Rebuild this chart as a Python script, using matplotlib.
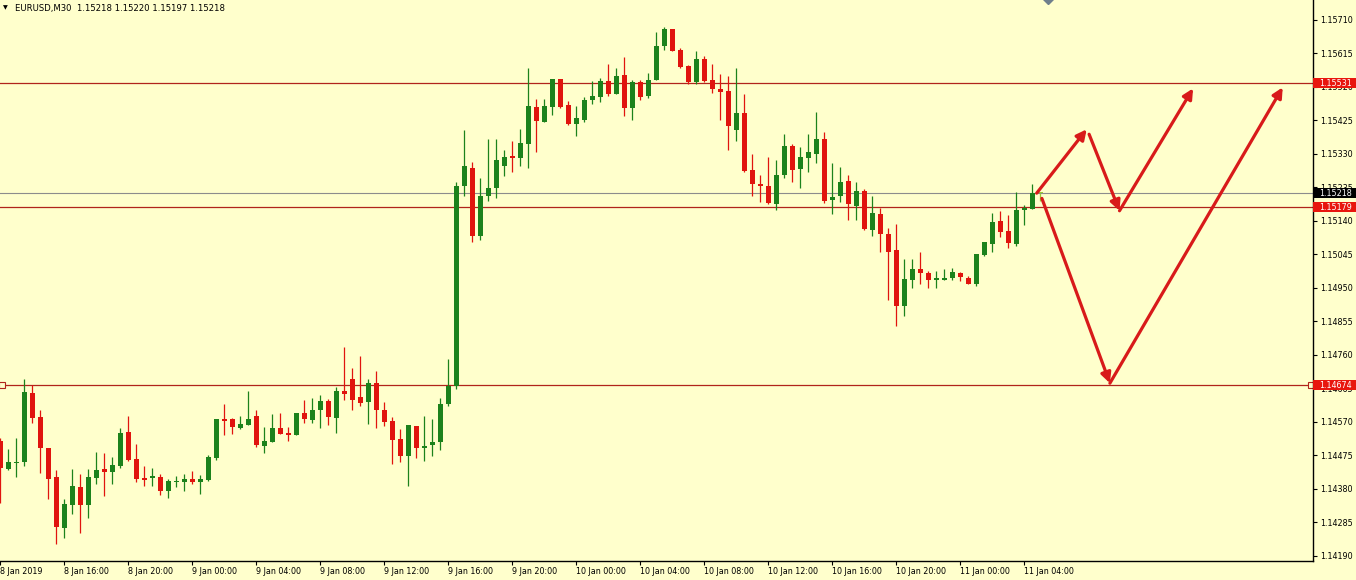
import matplotlib
matplotlib.use("Agg")
import matplotlib.pyplot as plt
import matplotlib.transforms as mtransforms
from matplotlib.patches import Rectangle
from matplotlib.ticker import FixedLocator, FormatStrFormatter
import numpy as np

# --- data (EURUSD M30) ---
symbol_title = "EURUSD,M30"
title_quote = [1.15218, 1.15220, 1.15197, 1.15218]

opens = [1.14516, 1.14438, 1.14454, 1.14456, 1.14652, 1.14583, 1.14496, 1.14414, 1.14270, 1.14335,
         1.14386, 1.14335, 1.14412, 1.14437, 1.14429, 1.14446, 1.14542, 1.14465, 1.14412, 1.14410,
         1.14414, 1.14374, 1.14401, 1.14400, 1.14408, 1.14400, 1.14405, 1.14467, 1.14579, 1.14579,
         1.14554, 1.14562, 1.14587, 1.14503, 1.14514, 1.14553, 1.14539, 1.14534, 1.14595, 1.14576,
         1.14604, 1.14630, 1.14582, 1.14657, 1.14692, 1.14641, 1.14626, 1.14681, 1.14603, 1.14573,
         1.14522, 1.14473, 1.14559, 1.14495, 1.14505, 1.14512, 1.14620, 1.14673, 1.15238, 1.15291,
         1.15098, 1.15212, 1.15233, 1.15297, 1.15323, 1.15319, 1.15359, 1.15463, 1.15422, 1.15463,
         1.15543, 1.15469, 1.15416, 1.15427, 1.15482, 1.15492, 1.15537, 1.15501, 1.15554, 1.15461,
         1.15535, 1.15495, 1.15539, 1.15636, 1.15685, 1.15626, 1.15580, 1.15535, 1.15599, 1.15539,
         1.15514, 1.15509, 1.15399, 1.15446, 1.15284, 1.15246, 1.15240, 1.15189, 1.15271, 1.15352,
         1.15287, 1.15319, 1.15330, 1.15373, 1.15199, 1.15210, 1.15254, 1.15182, 1.15225, 1.15115,
         1.15159, 1.15104, 1.15059, 1.14900, 1.14974, 1.15004, 1.14993, 1.14972, 1.14972, 1.14979,
         1.14993, 1.14979, 1.14962, 1.15044, 1.15076, 1.15139, 1.15112, 1.15076, 1.15170, 1.15173,
         1.15218]
highs = [1.14525, 1.14493, 1.14524, 1.14691, 1.14675, 1.14604, 1.14496, 1.14434, 1.14352, 1.14436,
         1.14422, 1.14436, 1.14485, 1.14481, 1.14471, 1.14553, 1.14586, 1.14508, 1.14445, 1.14439,
         1.14422, 1.14407, 1.14417, 1.14422, 1.14430, 1.14419, 1.14476, 1.14579, 1.14621, 1.14581,
         1.14586, 1.14658, 1.14604, 1.14555, 1.14593, 1.14596, 1.14555, 1.14595, 1.14632, 1.14638,
         1.14646, 1.14634, 1.14670, 1.14783, 1.14722, 1.14756, 1.14692, 1.14715, 1.14626, 1.14583,
         1.14550, 1.14561, 1.14559, 1.14586, 1.14579, 1.14639, 1.14749, 1.15250, 1.15399, 1.15307,
         1.15261, 1.15373, 1.15373, 1.15340, 1.15367, 1.15401, 1.15573, 1.15486, 1.15486, 1.15543,
         1.15543, 1.15480, 1.15465, 1.15492, 1.15537, 1.15545, 1.15586, 1.15573, 1.15605, 1.15539,
         1.15539, 1.15560, 1.15675, 1.15690, 1.15685, 1.15630, 1.15582, 1.15622, 1.15607, 1.15586,
         1.15556, 1.15550, 1.15573, 1.15499, 1.15329, 1.15271, 1.15321, 1.15312, 1.15386, 1.15358,
         1.15350, 1.15386, 1.15448, 1.15392, 1.15305, 1.15293, 1.15271, 1.15250, 1.15231, 1.15210,
         1.15178, 1.15120, 1.15131, 1.15032, 1.15032, 1.15053, 1.14998, 1.14998, 1.15004, 1.15007,
         1.14996, 1.14985, 1.15046, 1.15080, 1.15163, 1.15169, 1.15157, 1.15221, 1.15186, 1.15244,
         1.15220]
lows = [1.14339, 1.14433, 1.14415, 1.14446, 1.14568, 1.14426, 1.14351, 1.14223, 1.14242, 1.14308,
        1.14254, 1.14299, 1.14395, 1.14361, 1.14393, 1.14439, 1.14460, 1.14400, 1.14389, 1.14389,
        1.14362, 1.14355, 1.14386, 1.14375, 1.14393, 1.14367, 1.14403, 1.14463, 1.14534, 1.14537,
        1.14550, 1.14562, 1.14500, 1.14483, 1.14514, 1.14537, 1.14517, 1.14534, 1.14568, 1.14568,
        1.14554, 1.14561, 1.14540, 1.14632, 1.14605, 1.14616, 1.14563, 1.14554, 1.14558, 1.14450,
        1.14457, 1.14389, 1.14467, 1.14459, 1.14474, 1.14490, 1.14615, 1.14664, 1.15210, 1.15081,
        1.15087, 1.15197, 1.15206, 1.15268, 1.15280, 1.15296, 1.15290, 1.15337, 1.15420, 1.15441,
        1.15461, 1.15412, 1.15382, 1.15420, 1.15473, 1.15478, 1.15495, 1.15501, 1.15439, 1.15427,
        1.15482, 1.15490, 1.15539, 1.15626, 1.15622, 1.15575, 1.15529, 1.15529, 1.15535, 1.15503,
        1.15425, 1.15340, 1.15367, 1.15280, 1.15210, 1.15193, 1.15189, 1.15172, 1.15263, 1.15251,
        1.15233, 1.15278, 1.15305, 1.15191, 1.15159, 1.15195, 1.15144, 1.15144, 1.15114, 1.15098,
        1.15051, 1.14915, 1.14843, 1.14870, 1.14949, 1.14960, 1.14949, 1.14949, 1.14972, 1.14972,
        1.14970, 1.14960, 1.14955, 1.15042, 1.15053, 1.15095, 1.15064, 1.15070, 1.15129, 1.15173,
        1.15197]
closes = [1.14439, 1.14456, 1.14456, 1.14655, 1.14582, 1.14495, 1.14409, 1.14273, 1.14337, 1.14388,
          1.14335, 1.14414, 1.14433, 1.14429, 1.14448, 1.14539, 1.14463, 1.14409, 1.14406, 1.14417,
          1.14374, 1.14403, 1.14403, 1.14408, 1.14400, 1.14407, 1.14471, 1.14579, 1.14574, 1.14557,
          1.14563, 1.14578, 1.14504, 1.14515, 1.14552, 1.14537, 1.14533, 1.14595, 1.14579, 1.14604,
          1.14630, 1.14585, 1.14658, 1.14650, 1.14633, 1.14624, 1.14681, 1.14603, 1.14571, 1.14520,
          1.14473, 1.14561, 1.14497, 1.14503, 1.14512, 1.14620, 1.14673, 1.15240, 1.15295, 1.15098,
          1.15212, 1.15233, 1.15312, 1.15321, 1.15319, 1.15361, 1.15465, 1.15424, 1.15465, 1.15543,
          1.15463, 1.15414, 1.15431, 1.15482, 1.15494, 1.15537, 1.15501, 1.15550, 1.15461, 1.15535,
          1.15492, 1.15539, 1.15637, 1.15685, 1.15622, 1.15577, 1.15533, 1.15599, 1.15537, 1.15514,
          1.15507, 1.15410, 1.15446, 1.15282, 1.15244, 1.15238, 1.15191, 1.15271, 1.15352, 1.15285,
          1.15321, 1.15335, 1.15373, 1.15197, 1.15208, 1.15250, 1.15187, 1.15225, 1.15117, 1.15163,
          1.15104, 1.15053, 1.14900, 1.14976, 1.15004, 1.14993, 1.14972, 1.14977, 1.14979, 1.14994,
          1.14981, 1.14962, 1.15046, 1.15080, 1.15137, 1.15110, 1.15078, 1.15170, 1.15176, 1.15218,
          1.15218]

time_tick_bars = [0, 8, 16, 24, 32, 40, 48, 56, 64, 72, 80, 88, 96, 104, 112, 120, 128]
time_labels = ["8 Jan 2019", "8 Jan 16:00", "8 Jan 20:00", "9 Jan 00:00", "9 Jan 04:00",
               "9 Jan 08:00", "9 Jan 12:00", "9 Jan 16:00", "9 Jan 20:00", "10 Jan 00:00",
               "10 Jan 04:00", "10 Jan 08:00", "10 Jan 12:00", "10 Jan 16:00", "10 Jan 20:00",
               "11 Jan 00:00", "11 Jan 04:00"]

price_ticks = [1.14190, 1.14285, 1.14380, 1.14475, 1.14570, 1.14665, 1.14760, 1.14855,
               1.14950, 1.15045, 1.15140, 1.15235, 1.15330, 1.15425, 1.15520, 1.15615, 1.15710]

level_lines = [1.15531, 1.15179, 1.14674]
bid_price = 1.15218

# projected path drawn by hand: (bar, price) -> (bar, price)
arrow_starts = [(129.55, 1.15219), (136.1, 1.15386), (139.9, 1.15169), (130.2, 1.15204), (138.7, 1.14680)]
arrow_ends = [(135.8, 1.15400), (139.9, 1.15169), (149.1, 1.15516), (138.7, 1.14680), (160.3, 1.15519)]

alert_marker = (131.0, 1.15775)

BG = "#FFFFCC"
UP = "#1C821C"
DOWN = "#E0140E"
DOJI = "#9ACD32"
LEVEL = "#B0241C"
ARROW = "#D81A1A"
FS = 5.8

W, H = 1356, 580
AX_W, AX_H = 1313, 561
PX = 8.0  # pixels per bar

fig = plt.figure(figsize=(W / 100, H / 100), dpi=100)
fig.patch.set_facecolor(BG)
ax = fig.add_axes([0, (H - AX_H) / H, AX_W / W, AX_H / H])
ax.set_facecolor(BG)

idx = np.arange(len(opens))
o, h, l, c = map(np.array, (opens, highs, lows, closes))
colors = np.where(c > o, UP, np.where(c < o, DOWN, DOJI))

y_top = 1.157667
y_bot = 1.141758
px_price = (y_top - y_bot) / AX_H
ax.set_xlim(-0.3 / PX, (AX_W - 0.3) / PX)
ax.set_ylim(y_bot, y_top)

# level lines and bid line
for lv in level_lines:
    ax.axhline(lv, color=LEVEL, lw=0.9, zorder=1)
ax.axhline(bid_price, color="#8C8C8C", lw=0.8, zorder=1)
ax.plot([ax.get_xlim()[0] + 0.25, ax.get_xlim()[1] - 0.2], [level_lines[2]] * 2, ls="none",
        marker="s", ms=4, mfc=BG, mec=LEVEL, mew=0.8, zorder=2, clip_on=False)

# candles
ax.vlines(idx, l, h, colors=colors, lw=0.9, zorder=3)
body_low = np.minimum(o, c)
body_h = np.maximum(np.abs(c - o), px_price)
ax.bar(idx, body_h, bottom=body_low, width=5 / PX, color=colors, lw=0, zorder=4)

# hand-drawn projection arrows
for (x0, y0), (x1, y1) in zip(arrow_starts, arrow_ends):
    ax.annotate("", xy=(x1, y1), xytext=(x0, y0), zorder=6,
                arrowprops=dict(arrowstyle="-|>", color=ARROW, lw=2.3, mutation_scale=15,
                                shrinkA=0, shrinkB=0))

ax.plot([alert_marker[0]], [alert_marker[1]], marker="D", ms=7, color="#6F7F8C", zorder=5)

# axes styling
for side in ("top", "left"):
    ax.spines[side].set_visible(False)
for side in ("right", "bottom"):
    ax.spines[side].set_color("black")
    ax.spines[side].set_linewidth(1.0)

ax.yaxis.tick_right()
ax.yaxis.set_major_locator(FixedLocator(price_ticks))
ax.yaxis.set_major_formatter(FormatStrFormatter("%.5f"))
ax.tick_params(axis="y", length=3, width=0.8, pad=1.8, labelsize=FS, colors="black")

ax.xaxis.set_major_locator(FixedLocator(time_tick_bars))
ax.set_xticklabels(time_labels)
ax.tick_params(axis="x", length=3, width=0.8, pad=1.2, labelsize=FS, colors="black")
for lbl in ax.get_xticklabels():
    lbl.set_ha("left")

# price label boxes on the right scale
blend = mtransforms.blended_transform_factory(ax.transAxes, ax.transData)
box_w = (W - AX_W) / AX_W
box_h = 10 * px_price
for price, fc in [(level_lines[0], "#E8160E"), (bid_price, "black"),
                  (level_lines[1], "#E8160E"), (level_lines[2], "#E8160E")]:
    ax.add_patch(Rectangle((1.0, price - box_h / 2), box_w, box_h, transform=blend,
                           facecolor=fc, edgecolor="none", clip_on=False, zorder=8))
    ax.text(1.0 + 6 / AX_W, price, f"{price:.5f}", transform=blend, ha="left", va="center",
            color="white", fontsize=FS, zorder=9, clip_on=False)

# symbol line top-left
fig.text(3 / W, 1 - 8 / H, "\u25bc", fontsize=4.5, va="center", ha="left", color="black")
fig.text(15 / W, 1 - 8 / H, symbol_title + "  " + " ".join(f"{v:.5f}" for v in title_quote),
         fontsize=6.1, va="center", ha="left", color="black")

fig.savefig("out.png", dpi=100, facecolor=BG)
